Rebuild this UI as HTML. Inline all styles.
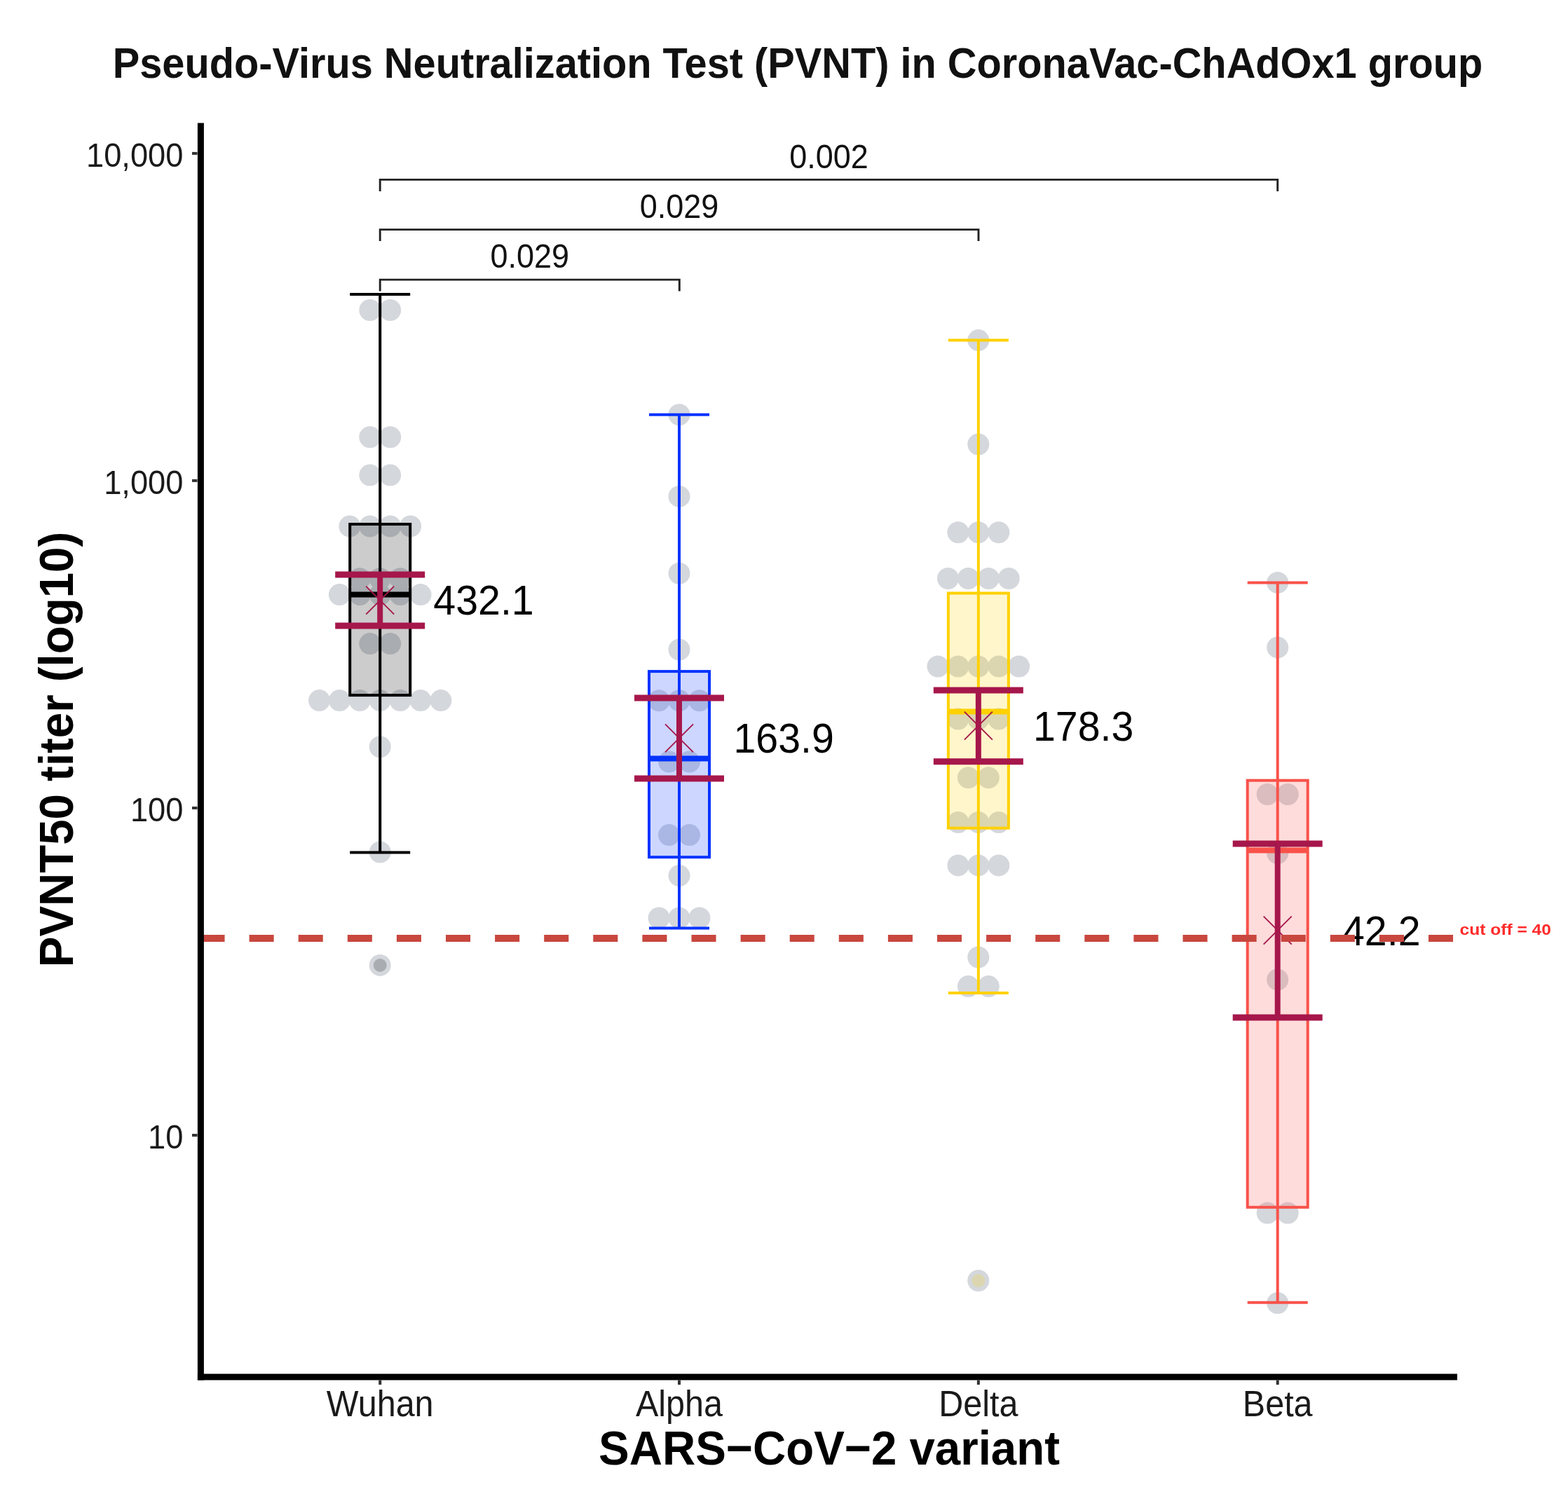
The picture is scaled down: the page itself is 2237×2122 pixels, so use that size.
<!DOCTYPE html>
<html lang="en">
<head>
<meta charset="utf-8">
<title>Pseudo-Virus Neutralization Test (PVNT) in CoronaVac-ChAdOx1 group</title>
<style>
html,body{margin:0;padding:0;background:#fff;}
body{width:2237px;height:2122px;overflow:hidden;}
svg{display:block;}
text{font-family:"Liberation Sans", sans-serif;}
.tk{font-size:45.3px;fill:#1a1a1a;}
.tkx{font-size:48.5px;fill:#1a1a1a;}
.pv{font-size:45px;fill:#111;}
.val{font-size:57.3px;fill:#000;}
.ttl{font-size:57.75px;font-weight:bold;fill:#111;}
.cut{font-size:24.6px;font-weight:bold;fill:#ff2a2a;}
.axt{font-size:65.4px;font-weight:bold;fill:#000;}
</style>
</head>
<body>
<svg width="2237" height="2122" viewBox="0 0 2237 2122">
<rect width="2237" height="2122" fill="#ffffff"/>

<text class="ttl" text-anchor="middle" transform="translate(1138.00 110.70) scale(1 1.044)">Pseudo-Virus Neutralization Test (PVNT) in CoronaVac-ChAdOx1 group</text>
<g fill="#d4d7dc">
<circle cx="527.8" cy="442.5" r="15.5"/><circle cx="556.7" cy="442.5" r="15.5"/>
<circle cx="527.8" cy="623.7" r="15.5"/><circle cx="556.7" cy="623.7" r="15.5"/>
<circle cx="527.8" cy="678.1" r="15.5"/><circle cx="556.7" cy="678.1" r="15.5"/>
<circle cx="498.9" cy="751.0" r="15.5"/><circle cx="527.8" cy="751.0" r="15.5"/><circle cx="556.7" cy="751.0" r="15.5"/><circle cx="585.6" cy="751.0" r="15.5"/>
<circle cx="513.3" cy="825.8" r="15.5"/><circle cx="542.2" cy="825.8" r="15.5"/><circle cx="571.1" cy="825.8" r="15.5"/>
<circle cx="484.4" cy="848.6" r="15.5"/><circle cx="513.3" cy="848.6" r="15.5"/><circle cx="542.2" cy="848.6" r="15.5"/><circle cx="571.1" cy="848.6" r="15.5"/><circle cx="600.0" cy="848.6" r="15.5"/>
<circle cx="527.8" cy="918.6" r="15.5"/><circle cx="556.7" cy="918.6" r="15.5"/>
<circle cx="455.5" cy="999.6" r="15.5"/><circle cx="484.4" cy="999.6" r="15.5"/><circle cx="513.3" cy="999.6" r="15.5"/><circle cx="542.2" cy="999.6" r="15.5"/><circle cx="571.1" cy="999.6" r="15.5"/><circle cx="600.0" cy="999.6" r="15.5"/><circle cx="628.9" cy="999.6" r="15.5"/>
<circle cx="542.2" cy="1065.7" r="15.5"/>
<circle cx="542.2" cy="1216.0" r="15.5"/>
<circle cx="542.2" cy="1377.4" r="15.5"/>
<circle cx="969.0" cy="591.8" r="15.5"/>
<circle cx="969.0" cy="708.4" r="15.5"/>
<circle cx="969.0" cy="818.3" r="15.5"/>
<circle cx="969.0" cy="927.0" r="15.5"/>
<circle cx="940.1" cy="999.7" r="15.5"/><circle cx="969.0" cy="999.7" r="15.5"/><circle cx="997.9" cy="999.7" r="15.5"/>
<circle cx="954.5" cy="1087.1" r="15.5"/><circle cx="983.5" cy="1087.1" r="15.5"/>
<circle cx="954.5" cy="1191.6" r="15.5"/><circle cx="983.5" cy="1191.6" r="15.5"/>
<circle cx="969.0" cy="1249.6" r="15.5"/>
<circle cx="940.1" cy="1310.0" r="15.5"/><circle cx="969.0" cy="1310.0" r="15.5"/><circle cx="997.9" cy="1310.0" r="15.5"/>
<circle cx="1395.8" cy="485.6" r="15.5"/>
<circle cx="1395.8" cy="634.0" r="15.5"/>
<circle cx="1366.9" cy="759.8" r="15.5"/><circle cx="1395.8" cy="759.8" r="15.5"/><circle cx="1424.8" cy="759.8" r="15.5"/>
<circle cx="1352.5" cy="825.5" r="15.5"/><circle cx="1381.4" cy="825.5" r="15.5"/><circle cx="1410.3" cy="825.5" r="15.5"/><circle cx="1439.2" cy="825.5" r="15.5"/>
<circle cx="1338.0" cy="951.0" r="15.5"/><circle cx="1366.9" cy="951.0" r="15.5"/><circle cx="1395.8" cy="951.0" r="15.5"/><circle cx="1424.8" cy="951.0" r="15.5"/><circle cx="1453.6" cy="951.0" r="15.5"/>
<circle cx="1366.9" cy="1026.0" r="15.5"/><circle cx="1395.8" cy="1026.0" r="15.5"/><circle cx="1424.8" cy="1026.0" r="15.5"/>
<circle cx="1381.4" cy="1109.8" r="15.5"/><circle cx="1410.3" cy="1109.8" r="15.5"/>
<circle cx="1366.9" cy="1173.5" r="15.5"/><circle cx="1395.8" cy="1173.5" r="15.5"/><circle cx="1424.8" cy="1173.5" r="15.5"/>
<circle cx="1366.9" cy="1234.9" r="15.5"/><circle cx="1395.8" cy="1234.9" r="15.5"/><circle cx="1424.8" cy="1234.9" r="15.5"/>
<circle cx="1395.8" cy="1366.0" r="15.5"/>
<circle cx="1381.4" cy="1407.6" r="15.5"/><circle cx="1410.3" cy="1407.6" r="15.5"/>
<circle cx="1395.8" cy="1827.5" r="15.5"/>
<circle cx="1822.7" cy="831.4" r="15.5"/>
<circle cx="1822.7" cy="923.9" r="15.5"/>
<circle cx="1808.2" cy="1133.5" r="15.5"/><circle cx="1837.2" cy="1133.5" r="15.5"/>
<circle cx="1822.7" cy="1217.5" r="15.5"/>
<circle cx="1822.7" cy="1398.0" r="15.5"/>
<circle cx="1808.2" cy="1731.0" r="15.5"/><circle cx="1837.2" cy="1731.0" r="15.5"/>
<circle cx="1822.7" cy="1859.5" r="15.5"/>
</g>
<g stroke="#000000" fill="none" stroke-width="4">
<circle cx="542.2" cy="1377.4" r="9.5" fill="#000000" fill-opacity="0.2" stroke="none"/>
<line x1="499.20000000000005" x2="585.2" y1="419.9" y2="419.9"/>
<line x1="499.20000000000005" x2="585.2" y1="1216.4" y2="1216.4"/>
<rect x="499.20000000000005" y="748.0" width="86.0" height="244.1" fill="#000000" fill-opacity="0.2" stroke-width="4"/>
<line x1="542.2" x2="542.2" y1="419.9" y2="1216.4"/>
<line x1="499.20000000000005" x2="585.2" y1="848.6" y2="848.6" stroke-width="8"/>
</g>
<g stroke="#0433ff" fill="none" stroke-width="4">
<line x1="926.0" x2="1012.0" y1="591.8" y2="591.8"/>
<line x1="926.0" x2="1012.0" y1="1324.4" y2="1324.4"/>
<rect x="926.0" y="958.1" width="86.0" height="265.1" fill="#0433ff" fill-opacity="0.2" stroke-width="4"/>
<line x1="969.0" x2="969.0" y1="591.8" y2="1324.4"/>
<line x1="926.0" x2="1012.0" y1="1082.4" y2="1082.4" stroke-width="8"/>
</g>
<g stroke="#ffd100" fill="none" stroke-width="4">
<circle cx="1395.85" cy="1827.5" r="9.5" fill="#ffd100" fill-opacity="0.2" stroke="none"/>
<line x1="1352.85" x2="1438.85" y1="485.6" y2="485.6"/>
<line x1="1352.85" x2="1438.85" y1="1417.0" y2="1417.0"/>
<rect x="1352.85" y="846.5" width="86.0" height="335.2" fill="#ffd100" fill-opacity="0.2" stroke-width="4"/>
<line x1="1395.85" x2="1395.85" y1="485.6" y2="1417.0"/>
<line x1="1352.85" x2="1438.85" y1="1015.4" y2="1015.4" stroke-width="8"/>
</g>
<g stroke="#f8524a" fill="none" stroke-width="4">
<line x1="1779.7" x2="1865.7" y1="831.4" y2="831.4"/>
<line x1="1779.7" x2="1865.7" y1="1858.7" y2="1858.7"/>
<rect x="1779.7" y="1113.7" width="86.0" height="609.1" fill="#f8524a" fill-opacity="0.2" stroke-width="4"/>
<line x1="1822.7" x2="1822.7" y1="831.4" y2="1858.7"/>
<line x1="1779.7" x2="1865.7" y1="1213.6" y2="1213.6" stroke-width="8"/>
</g>
<g stroke="#a6174b" fill="none">
<line x1="542.2" x2="542.2" y1="820.0" y2="893.0" stroke-width="8"/>
<line x1="478.20000000000005" x2="606.2" y1="820.0" y2="820.0" stroke-width="9"/>
<line x1="478.20000000000005" x2="606.2" y1="893.0" y2="893.0" stroke-width="9"/>
<path d="M522.2 836.7L562.2 876.7M522.2 876.7L562.2 836.7" stroke-width="1.9"/>
</g>
<g stroke="#a6174b" fill="none">
<line x1="969.0" x2="969.0" y1="995.9" y2="1111.0" stroke-width="8"/>
<line x1="905.0" x2="1033.0" y1="995.9" y2="995.9" stroke-width="9"/>
<line x1="905.0" x2="1033.0" y1="1111.0" y2="1111.0" stroke-width="9"/>
<path d="M949.0 1033.4L989.0 1073.4M949.0 1073.4L989.0 1033.4" stroke-width="1.9"/>
</g>
<g stroke="#a6174b" fill="none">
<line x1="1395.85" x2="1395.85" y1="985.1" y2="1086.8" stroke-width="8"/>
<line x1="1331.85" x2="1459.85" y1="985.1" y2="985.1" stroke-width="9"/>
<line x1="1331.85" x2="1459.85" y1="1086.8" y2="1086.8" stroke-width="9"/>
<path d="M1375.85 1015.5999999999999L1415.85 1055.6M1375.85 1055.6L1415.85 1015.5999999999999" stroke-width="1.9"/>
</g>
<g stroke="#a6174b" fill="none">
<line x1="1822.7" x2="1822.7" y1="1204.0" y2="1452.1" stroke-width="8"/>
<line x1="1758.7" x2="1886.7" y1="1204.0" y2="1204.0" stroke-width="9"/>
<line x1="1758.7" x2="1886.7" y1="1452.1" y2="1452.1" stroke-width="9"/>
<path d="M1802.7 1307.7L1842.7 1347.7M1802.7 1347.7L1842.7 1307.7" stroke-width="1.9"/>
</g>
<text class="val" transform="translate(618.30 877.30) scale(1 1.044)">432.1</text>
<text class="val" transform="translate(1046.50 1073.90) scale(1 1.044)">163.9</text>
<text class="val" transform="translate(1474.00 1056.50) scale(1 1.044)">178.3</text>
<text class="val" transform="translate(1915.00 1348.80) scale(1 1.044)">42.2</text>
<line x1="285.5" x2="2076" y1="1339.1" y2="1339.1" stroke="#c8473e" stroke-width="10" stroke-dasharray="35.05 35.05"/>
<text class="cut" transform="translate(2082.50 1333.70) scale(1 0.91)">cut off = 40</text>
<path d="M542.2 272.9V256.4H1822.7V272.9" fill="none" stroke="#222" stroke-width="2.9"/>
<text class="pv" text-anchor="middle" transform="translate(1182.45 239.60) scale(1 1.07)">0.002</text>
<path d="M542.2 344.1V327.6H1396.0V344.1" fill="none" stroke="#222" stroke-width="2.9"/>
<text class="pv" text-anchor="middle" transform="translate(969.10 310.80) scale(1 1.07)">0.029</text>
<path d="M542.2 415.6V399.1H969.3V415.6" fill="none" stroke="#222" stroke-width="2.9"/>
<text class="pv" text-anchor="middle" transform="translate(755.75 382.30) scale(1 1.07)">0.029</text>
<g stroke="#000" stroke-width="9" fill="none">
<line x1="286.4" x2="286.4" y1="175.5" y2="1969.5"/>
<line x1="281.9" x2="2079" y1="1965" y2="1965"/>
</g>
<g stroke="#333" stroke-width="4" fill="none">
<line x1="274" x2="281.5" y1="218.9" y2="218.9"/>
<line x1="274" x2="281.5" y1="685.9" y2="685.9"/>
<line x1="274" x2="281.5" y1="1153.0" y2="1153.0"/>
<line x1="274" x2="281.5" y1="1620.0" y2="1620.0"/>
<line x1="542.2" x2="542.2" y1="1969.5" y2="1976"/>
<line x1="969.0" x2="969.0" y1="1969.5" y2="1976"/>
<line x1="1395.85" x2="1395.85" y1="1969.5" y2="1976"/>
<line x1="1822.7" x2="1822.7" y1="1969.5" y2="1976"/>
</g>
<text class="tk" text-anchor="end" transform="translate(261.50 238.30) scale(1 1.07)">10,000</text>
<text class="tk" text-anchor="end" transform="translate(261.50 705.30) scale(1 1.07)">1,000</text>
<text class="tk" text-anchor="end" transform="translate(261.50 1172.40) scale(1 1.07)">100</text>
<text class="tk" text-anchor="end" transform="translate(261.50 1639.40) scale(1 1.07)">10</text>
<text class="tkx" text-anchor="middle" transform="translate(542.20 2020.90) scale(1 1.06)">Wuhan</text>
<text class="tkx" text-anchor="middle" transform="translate(969.00 2020.90) scale(1 1.06)">Alpha</text>
<text class="tkx" text-anchor="middle" transform="translate(1395.85 2020.90) scale(1 1.06)">Delta</text>
<text class="tkx" text-anchor="middle" transform="translate(1822.70 2020.90) scale(1 1.06)">Beta</text>
<text class="axt" text-anchor="middle" transform="translate(1183.00 2090.10) scale(1 1.044)">SARS−CoV−2 variant</text>
<text class="axt" text-anchor="middle" transform="translate(103.60 1069.50) rotate(-90) scale(1 1.044)">PVNT50 titer (log10)</text>
</svg>
</body>
</html>
